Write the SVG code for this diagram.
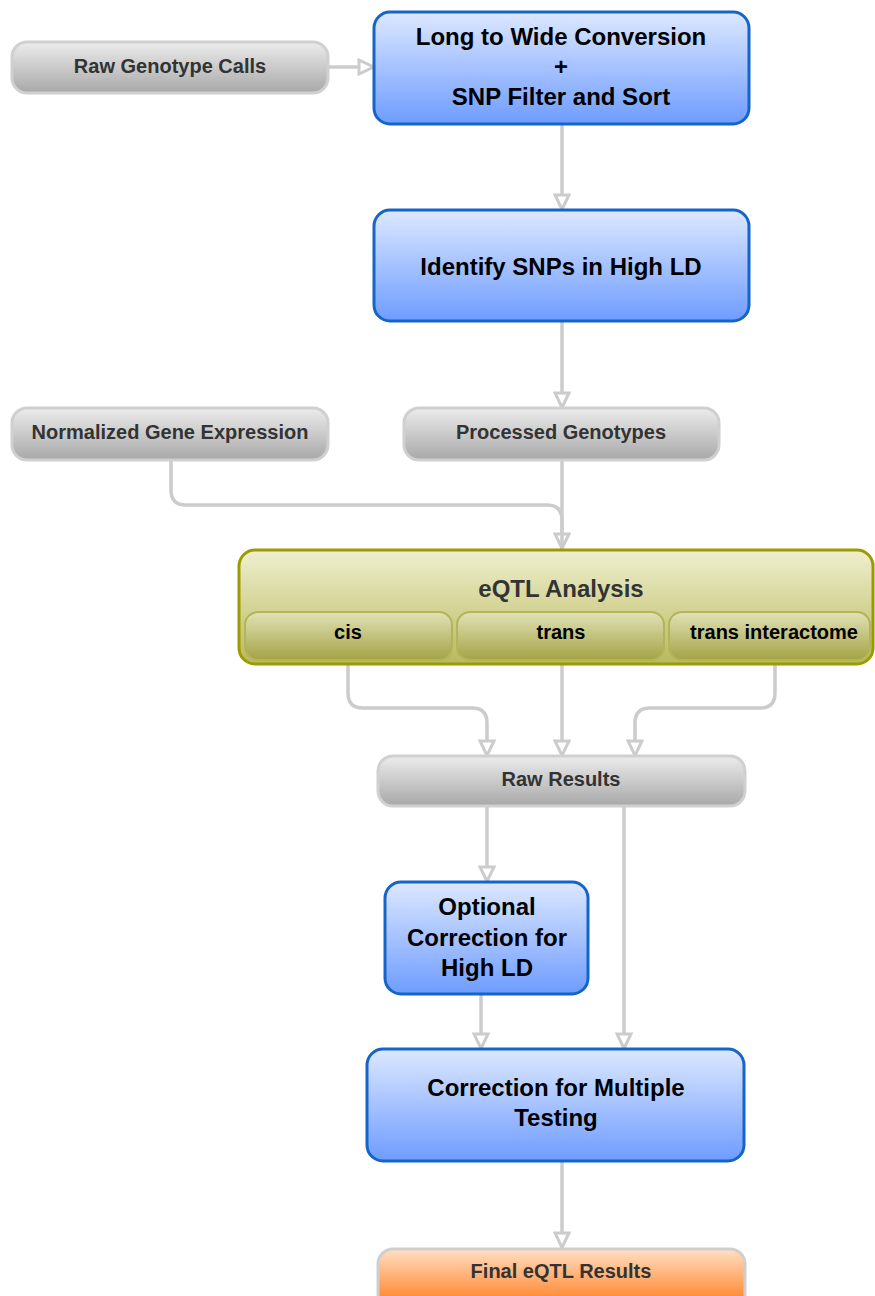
<svg xmlns="http://www.w3.org/2000/svg" width="875" height="1296" viewBox="0 0 875 1296">
<defs>
<linearGradient id="gGray" x1="0" y1="0" x2="0" y2="1"><stop offset="0" stop-color="#ececec"/><stop offset="1" stop-color="#a8a8a8"/></linearGradient>
<linearGradient id="gBlue" x1="0" y1="0" x2="0" y2="1"><stop offset="0" stop-color="#dde8ff"/><stop offset="1" stop-color="#6e9cff"/></linearGradient>
<linearGradient id="gOlive" x1="0" y1="0" x2="0" y2="1"><stop offset="0" stop-color="#efefcf"/><stop offset="1" stop-color="#b9b95f"/></linearGradient>
<linearGradient id="gOliveSub" x1="0" y1="0" x2="0" y2="1"><stop offset="0" stop-color="#e2e2b6"/><stop offset="1" stop-color="#a3a345"/></linearGradient>
<linearGradient id="gOrange" x1="0" y1="0" x2="0" y2="1"><stop offset="0" stop-color="#ffe0c4"/><stop offset="1" stop-color="#ff7410"/></linearGradient>
<marker id="arr" viewBox="0 0 18 18" refX="17" refY="9" markerWidth="18" markerHeight="18" markerUnits="userSpaceOnUse" orient="auto">
<path d="M2,2 L16.5,9 L2,16 Z" fill="#fff" stroke="#cccccc" stroke-width="3" stroke-linejoin="miter"/>
</marker>
</defs>
<style>
.conn{fill:none;stroke:#cccccc;stroke-width:3.5;marker-end:url(#arr)}
.conn2{fill:none;stroke:#cccccc;stroke-width:3.5}
.gray{fill:url(#gGray);stroke:#d0d0d0;stroke-width:3}
.blue{fill:url(#gBlue);stroke:#1565c8;stroke-width:3}
.olive{fill:url(#gOlive);stroke:#9c9c00;stroke-width:3}
.sub{fill:url(#gOliveSub);stroke:#b4b45a;stroke-width:2}
.orange{fill:url(#gOrange);stroke:#cfcfcf;stroke-width:3}
.tg{font-family:"Liberation Sans",Arial,sans-serif;font-weight:bold;font-size:20px;fill:#333;text-anchor:middle;dominant-baseline:central}
.tb{font-family:"Liberation Sans",Arial,sans-serif;font-weight:bold;font-size:24px;fill:#000;text-anchor:middle;dominant-baseline:central}
.te{font-family:"Liberation Sans",Arial,sans-serif;font-weight:bold;font-size:24px;fill:#333;text-anchor:middle;dominant-baseline:central}
.ts{font-family:"Liberation Sans",Arial,sans-serif;font-weight:bold;font-size:20px;fill:#000;text-anchor:middle;dominant-baseline:central}
</style>
<rect width="875" height="1296" fill="#ffffff"/>
<g id="connectors">
<path class="conn" d="M328,67 H374"/>
<path class="conn" d="M562,124 V210"/>
<path class="conn" d="M562,321 V408"/>
<path class="conn" d="M562,460 V549"/>
<path class="conn2" d="M171,460 V490 Q171,505 186,505 H547 Q562,505 562,520 V549"/>
<path class="conn" d="M348,664 V693 Q348,708 363,708 H472 Q487,708 487,723 V756"/>
<path class="conn" d="M562,664 V756"/>
<path class="conn" d="M775,664 V693 Q775,708 760,708 H650 Q635,708 635,723 V756"/>
<path class="conn" d="M487,806 V882"/>
<path class="conn" d="M624,806 V1049"/>
<path class="conn" d="M481,994 V1049"/>
<path class="conn" d="M562,1161 V1248"/>
</g>
<g id="raw-genotype-calls">
<rect class="gray" x="12" y="42" width="316" height="51" rx="15"/>
<text class="tg" x="170" y="66">Raw Genotype Calls</text>
</g>
<g id="long-to-wide">
<rect class="blue" x="374" y="12" width="375" height="112" rx="16"/>
<text class="tb" x="561" y="36">Long to Wide Conversion</text>
<text class="tb" x="561" y="66">+</text>
<text class="tb" x="561" y="96">SNP Filter and Sort</text>
</g>
<g id="identify-snps">
<rect class="blue" x="374" y="210" width="375" height="111" rx="16"/>
<text class="tb" x="561" y="266">Identify SNPs in High LD</text>
</g>
<g id="normalized-gene-expression">
<rect class="gray" x="12" y="408" width="316" height="52" rx="15"/>
<text class="tg" x="170" y="432">Normalized Gene Expression</text>
</g>
<g id="processed-genotypes">
<rect class="gray" x="404" y="408" width="315" height="52" rx="15"/>
<text class="tg" x="561" y="432">Processed Genotypes</text>
</g>
<g id="eqtl-analysis">
<rect class="olive" x="239" y="550" width="634" height="114" rx="16"/>
<text class="te" x="561" y="588">eQTL Analysis</text>
<g id="cis">
<rect class="sub" x="245" y="612" width="207" height="48" rx="13"/>
<text class="ts" x="348" y="632">cis</text>
</g>
<g id="trans">
<rect class="sub" x="457" y="612" width="207" height="48" rx="13"/>
<text class="ts" x="561" y="632">trans</text>
</g>
<g id="trans-interactome">
<rect class="sub" x="669" y="612" width="201" height="48" rx="13"/>
<text class="ts" x="774" y="632">trans interactome</text>
</g>
</g>
<g id="raw-results">
<rect class="gray" x="378" y="756" width="367" height="50" rx="15"/>
<text class="tg" x="561" y="779">Raw Results</text>
</g>
<g id="optional-correction">
<rect class="blue" x="385" y="882" width="203" height="112" rx="16"/>
<text class="tb" x="487" y="906">Optional</text>
<text class="tb" x="487" y="937">Correction for</text>
<text class="tb" x="487" y="967">High LD</text>
</g>
<g id="correction-multiple-testing">
<rect class="blue" x="367" y="1049" width="377" height="112" rx="16"/>
<text class="tb" x="556" y="1087">Correction for Multiple</text>
<text class="tb" x="556" y="1117">Testing</text>
</g>
<g id="final-eqtl-results">
<rect class="orange" x="378" y="1249" width="367" height="62" rx="15"/>
<text class="tg" x="561" y="1271">Final eQTL Results</text>
</g>
</svg>
